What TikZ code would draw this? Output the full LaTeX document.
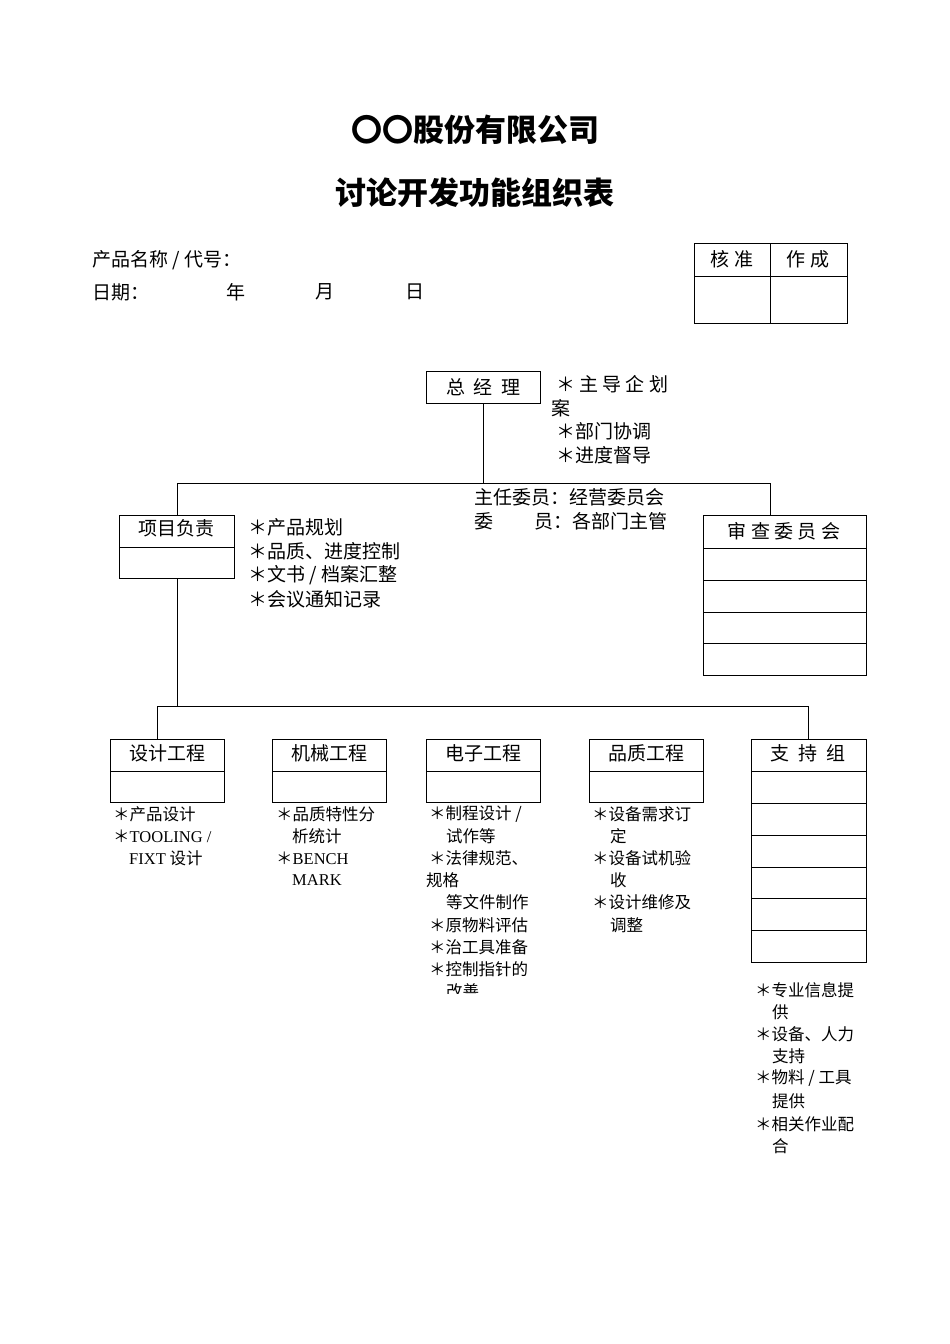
\documentclass[tikz,border=0pt]{standalone}
\usepackage{fontspec}
\setmainfont{Noto Sans CJK SC}
\newfontfamily\lat{Liberation Serif}
\begin{document}
\begin{tikzpicture}[x=1pt,y=-1pt,
  bx/.style={draw,line width=0.9pt,inner sep=0,anchor=north west},
  t/.style={anchor=west,inner sep=0,font=\fontsize{19}{19}\selectfont},
  s/.style={anchor=west,inner sep=0,font=\fontsize{16.5}{16.5}\selectfont},
  ln/.style={line width=0.9pt}]
\useasboundingbox (0,0) rectangle (950,1344);
\node[inner sep=0,font=\fontsize{31}{31}\selectfont\bfseries] (t1) at (475,130) {〇〇股份有限公司};
\node[inner sep=0,font=\fontsize{31}{31}\selectfont\bfseries] (t2) at (475,193) {讨论开发功能组织表};
\node[t] (h1) at (92,260) {产品名称 / 代号：};
\node[t] (h2) at (92,292) {日期：};
\node[t] (h3) at (226,292) {年};
\node[t] (h4) at (315,292) {月};
\node[t] (h5) at (405,292) {日};
% approval table
\draw[ln] (694,243) rectangle (847,323);
\draw[ln] (694,276) -- (847,276);
\draw[ln] (770,243) -- (770,323);
\node[inner sep=0,font=\fontsize{19}{19}\selectfont] (ap1) at (732,259) {核 准};
\node[inner sep=0,font=\fontsize{19}{19}\selectfont] (ap2) at (808,259) {作 成};
% GM
\node[bx,minimum width=114,minimum height=32] (gm) at (426,371) {};
\node[inner sep=0,font=\fontsize{19}{19}\selectfont] (gmt) at (gm.center) {总\ \ 经\ \ 理};
\node[t] (g1) at (556,384) {＊ 主 导 企 划};
\node[t] (g2) at (551,408) {案};
\node[t] (g3) at (556,431) {＊部门协调};
\node[t] (g4) at (556,455) {＊进度督导};
\coordinate (busL) at (177,483);
\coordinate (busR) at (770,483);
% PM
\node[bx,minimum width=115,minimum height=63] (pm) at (119,515) {};
\draw[ln] (119,547) -- (234,547);
\node[inner sep=0,font=\fontsize{19}{19}\selectfont] (pmt) at (176,528) {项目负责};
\node[t] (p1) at (248,527) {＊产品规划};
\node[t] (p2) at (248,551) {＊品质、进度控制};
\node[t] (p3) at (248,575) {＊文书 / 档案汇整};
\node[t] (p4) at (248,599) {＊会议通知记录};
\node[t] (c1) at (474,497) {主任委员：经营委员会};
\node[t] (c2) at (474,521) {委\hspace{2.2em}员：各部门主管};
% review committee
\node[bx,minimum width=163,minimum height=160] (rv) at (703,515) {};
\foreach \yy in {548,580,612,643} \draw[ln] (703,\yy) -- (866,\yy);
\node[inner sep=0,font=\fontsize{19}{19}\selectfont] (rvt) at (784,531) {审 查 委 员 会};
\draw[ln] (gm.south) -- (gm.south |- busL);
\draw[ln] (pm.north -| busL) -- (busL) -- (busR) -- (rv.north -| busR);
% lower bus
\coordinate (b2L) at (157,706);
\coordinate (b2R) at (808,706);
\draw[ln] (pm.south -| busL) -- (busL |- b2L);
% dept boxes
\foreach \n/\x/\lab in {d1/110/设计工程,d2/272/机械工程,d3/426/电子工程,d4/589/品质工程}{
  \node[bx,minimum width=114,minimum height=63] (\n) at (\x,739) {};
  \draw[ln] (\x,771) -- (\x+114,771);
  \node[inner sep=0,font=\fontsize{19}{19}\selectfont] (\n t) at (\x+57,753) {\lab};
}
\node[bx,minimum width=115,minimum height=223] (d5) at (751,739) {};
\foreach \yy in {771,803,835,867,898,930} \draw[ln] (751,\yy) -- (866,\yy);
\node[inner sep=0,font=\fontsize{19}{19}\selectfont] (d5t) at (808,753) {支\ \ 持\ \ 组};
\draw[ln] (d1.north -| b2L) -- (b2L) -- (b2R) -- (d5.north -| b2R);
% notes
\node[s] (a1) at (113,814) {＊产品设计};
\node[s] (a2) at (113,836) {＊{\lat TOOLING /}};
\node[s] (a3) at (129,858) {{\lat FIXT} 设计};
\node[s] (b1) at (276,814) {＊品质特性分};
\node[s] (b2) at (292,836) {析统计};
\node[s] (b3) at (276,858) {＊{\lat BENCH}};
\node[s] (b4) at (292,880) {{\lat MARK}};
\begin{scope}
\clip (400,800) rectangle (560,993);
\node[s] (e1) at (429,814) {＊制程设计 /};
\node[s] (e2) at (446,836) {试作等};
\node[s] (e3) at (429,858) {＊法律规范、};
\node[s] (e4) at (426,880) {规格};
\node[s] (e5) at (446,902) {等文件制作};
\node[s] (e6) at (429,925) {＊原物料评估};
\node[s] (e7) at (429,947) {＊治工具准备};
\node[s] (e8) at (429,969) {＊控制指针的};
\node[s] (e9) at (446,991) {改善};
\end{scope}
\node[s] (f1) at (592,814) {＊设备需求订};
\node[s] (f2) at (610,836) {定};
\node[s] (f3) at (592,858) {＊设备试机验};
\node[s] (f4) at (610,880) {收};
\node[s] (f5) at (592,902) {＊设计维修及};
\node[s] (f6) at (610,925) {调整};
\node[s] (k1) at (755,990) {＊专业信息提};
\node[s] (k2) at (772,1012) {供};
\node[s] (k3) at (755,1034) {＊设备、人力};
\node[s] (k4) at (772,1056) {支持};
\node[s] (k5) at (755,1078) {＊物料 / 工具};
\node[s] (k6) at (772,1101) {提供};
\node[s] (k7) at (755,1124) {＊相关作业配};
\node[s] (k8) at (772,1146) {合};
\end{tikzpicture}
\end{document}
